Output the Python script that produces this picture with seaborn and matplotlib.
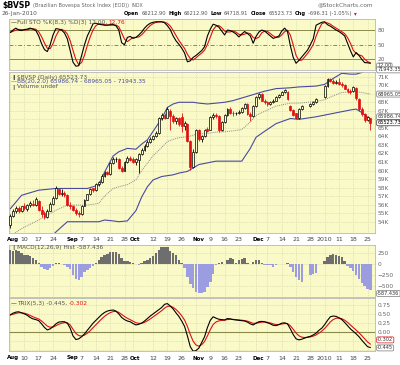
import numpy as np
import pandas as pd
import matplotlib
matplotlib.use("Agg")
import matplotlib.pyplot as plt
from matplotlib.transforms import blended_transform_factory as btf
import seaborn as sns

nan = np.nan
dates = pd.bdate_range("2009-08-03", "2010-01-26")

# ---- daily OHLC of $BVSP, in thousands ----
open_k = [53.6, 54.7, 55.2, 55.6, 55.3, 55.8, 55.5, 56.0, 56.1, 56.0,
          56.4, 55.4, 55.0, 54.5, 55.3, 56.1, 56.8, 57.8, 57.3, 57.4,
          57.1, 56.0, 55.9, 55.4, 55.0, 54.9, 55.9, 56.6, 57.2, 57.9,
          57.7, 58.4, 58.7, 59.4, 59.8, 59.6, 60.9, 61.3, 61.4, 60.3,
          60.0, 61.0, 61.5, 61.3, 61.0, 61.2, 61.9, 62.4, 62.9, 63.4,
          63.7, 64.0, 64.4, 66.1, 66.5, 66.2, 67.0, 66.4, 65.8, 66.1,
          66.3, 65.2, 65.5, 63.5, 60.4, 62.2, 64.7, 63.7, 64.0, 64.9,
          64.8, 66.3, 66.5, 66.4, 64.7, 65.7, 66.5, 67.2, 66.8, 66.7,
          66.7, 66.9, 67.3, 67.8, 66.6, 66.4, 67.6, 68.6, 69.0, 68.2,
          68.0, 67.8, 68.0, 68.2, 68.6, 68.9, 69.2, 69.2, 67.6, 67.1,
          66.7, 66.1, 67.2, nan, nan, 67.6, 67.8, 68.0, nan, nan,
          68.6, 69.9, 70.7, 70.5, 70.3, 70.4, 70.2, 70.0, 69.6, 69.3,
          69.3, 69.7, 68.4, 67.2, 66.6, 65.9, 66.21]
high_k = [54.9, 55.5, 55.8, 55.9, 55.9, 56.2, 56.1, 56.4, 56.5, 56.9,
          56.6, 55.8, 55.2, 55.5, 56.3, 57.0, 58.2, 58.0, 57.8, 57.6,
          57.3, 56.3, 56.0, 55.6, 55.2, 56.0, 56.7, 57.3, 57.9, 58.0,
          58.5, 58.8, 59.6, 59.9, 60.0, 61.0, 61.6, 61.6, 61.5, 60.5,
          61.1, 61.7, 61.7, 61.6, 61.5, 62.0, 62.6, 63.1, 63.6, 63.9,
          64.2, 64.6, 66.3, 66.7, 66.7, 67.4, 67.2, 66.6, 66.3, 66.3,
          66.8, 65.8, 65.6, 63.6, 62.5, 64.9, 64.9, 64.2, 64.9, 65.1,
          66.4, 66.7, 66.7, 66.5, 65.8, 66.6, 67.3, 67.4, 67.0, 66.9,
          67.1, 67.4, 67.9, 67.9, 66.9, 67.7, 68.7, 69.1, 69.1, 68.4,
          68.2, 68.1, 68.4, 68.7, 69.0, 69.3, 69.6, 69.3, 67.7, 67.2,
          66.8, 67.3, 67.7, nan, nan, 67.9, 68.1, 68.5, nan, nan,
          70.0, 70.8, 70.9, 70.7, 70.6, 70.8, 70.4, 70.1, 69.7, 69.5,
          69.9, 69.8, 68.5, 67.4, 66.8, 66.4, 66.21]
low_k = [53.3, 54.5, 55.0, 55.0, 55.1, 55.4, 55.3, 55.7, 55.8, 55.9,
         55.2, 54.5, 54.3, 54.4, 55.2, 56.0, 56.7, 57.1, 57.0, 56.9,
         55.9, 55.5, 55.2, 54.8, 54.6, 54.8, 55.8, 56.5, 57.1, 57.5,
         57.6, 58.2, 58.5, 59.2, 59.5, 59.5, 60.8, 61.0, 60.2, 59.8,
         59.9, 60.9, 61.1, 60.9, 60.6, 59.7, 61.8, 62.3, 62.8, 63.2,
         63.6, 63.9, 64.3, 65.9, 66.0, 66.1, 64.7, 65.6, 65.4, 65.2,
         64.5, 64.8, 63.3, 60.1, 60.3, 62.0, 63.5, 63.4, 63.9, 64.5,
         64.7, 66.0, 66.2, 64.5, 64.6, 65.6, 66.4, 66.6, 66.4, 66.5,
         66.6, 66.8, 67.2, 66.5, 65.8, 66.3, 67.5, 68.4, 68.1, 67.8,
         67.6, 67.7, 67.9, 68.1, 68.5, 68.8, 69.1, 68.3, 67.0, 66.4,
         66.0, 66.0, 67.1, nan, nan, 67.5, 67.7, 67.9, nan, nan,
         68.5, 69.8, 70.4, 70.2, 70.1, 70.0, 69.8, 69.5, 69.1, 69.0,
         69.2, 68.3, 67.0, 66.4, 65.7, 65.8, 64.72]
close_k = [54.7, 55.3, 55.6, 55.2, 55.8, 55.6, 56.0, 56.2, 56.0, 56.7,
           55.4, 54.9, 54.6, 55.3, 56.1, 56.8, 57.9, 57.3, 57.4, 57.1,
           56.0, 55.9, 55.4, 55.0, 54.9, 55.9, 56.6, 57.2, 57.8, 57.7,
           58.4, 58.7, 59.4, 59.7, 59.6, 60.9, 61.3, 61.4, 60.3, 60.0,
           61.0, 61.5, 61.2, 61.0, 61.4, 61.9, 62.4, 62.9, 63.4, 63.7,
           64.0, 64.4, 66.1, 66.5, 66.2, 67.2, 66.4, 65.8, 66.1, 65.5,
           65.2, 65.6, 63.5, 60.4, 62.2, 64.7, 63.7, 64.0, 64.7, 64.6,
           66.3, 66.5, 66.4, 64.7, 65.7, 66.5, 67.2, 66.8, 66.7, 66.8,
           66.9, 67.3, 67.8, 66.6, 66.4, 67.6, 68.6, 69.0, 68.2, 68.0,
           67.8, 68.0, 68.2, 68.6, 68.9, 69.2, 69.4, 68.4, 67.1, 66.5,
           66.1, 67.2, 67.6, nan, nan, 67.8, 68.0, 68.4, nan, nan,
           69.9, 70.7, 70.5, 70.3, 70.4, 70.2, 70.0, 69.6, 69.3, 69.2,
           69.8, 68.5, 67.2, 66.6, 65.9, 66.22, 65.52]

# ---- Bollinger bands (20,2), read at selected days ----
bb_day = [0, 4, 10, 16, 20, 27, 31, 33, 36, 38, 41, 44, 46, 48, 50, 53, 55, 57, 59, 62,
          64, 66, 69, 72, 75, 78, 81, 84, 86, 89, 93, 98, 101, 107, 110, 113, 116, 119, 121, 123, 126]
bb_upper = [55.5, 57.1, 57.7, 57.9, 57.9, 57.9, 58.3, 59.8, 61.7, 62.2, 62.6, 62.5, 63.1, 63.6,
            64.6, 66.1, 67.4, 67.8, 68.0, 68.0, 68.0, 67.9, 67.8, 67.9, 68.0, 68.2, 68.5, 68.8,
            69.0, 69.3, 69.6, 69.7, 69.8, 69.9, 70.1, 70.8, 71.4, 71.3, 71.3, 71.5, 71.94]
bb_lower = [49.1, 49.3, 50.7, 52.8, 54.0, 54.0, 54.0, 54.2, 54.1, 54.0, 54.1, 55.3, 56.9, 58.1,
            58.9, 59.3, 59.4, 59.5, 59.7, 59.9, 60.3, 60.7, 60.9, 61.1, 61.1, 61.1, 61.1, 62.6,
            63.9, 64.6, 65.5, 66.1, 66.0, 66.3, 66.5, 66.7, 66.9, 67.1, 67.2, 66.8, 65.99]

# ---- Full Stochastic %K(8,3) ----
sto_k = [75, 80, 84, 80, 79, 81, 82, 84, 82, 79, 68, 52, 40, 36, 50, 70, 83, 82, 80, 74,
         62, 38, 14, 6, 7, 28, 50, 68, 80, 93, 94, 92, 91, 90, 90, 91, 91, 89, 80, 54,
         50, 65, 67, 63, 65, 70, 76, 84, 90, 94, 96, 97, 97, 97, 95, 89, 81, 68, 58, 51,
         43, 33, 15, 17, 24, 28, 33, 38, 46, 68, 82, 92, 90, 86, 78, 70, 80, 79, 76, 72,
         66, 72, 77, 73, 68, 53, 67, 76, 80, 78, 73, 68, 63, 65, 68, 78, 84, 77, 48, 24,
         12, 18, 25, 32, 39, 50, 62, 90, 93, 96, 97, 91, 88, 84, 80, 77, 73, 68, 53, 38,
         25, 34, 28, 20, 13.3, 13.0, 12.0]

# ---- MACD(12,26,9) histogram ----
macd_hist = [310, 300, 305, 290, 240, 210, 200, 170, 130, 95,
             20, -60, -120, -135, -90, -40, 15, 15, 10, -20,
             -60, -110, -250, -330, -360, -300, -180, -130, -80, -40,
             20, 90, 150, 200, 230, 260, 270, 270, 230, 130,
             70, 60, 55, 20, 10, -20, 30, 60, 100, 130,
             180, 250, 320, 380, 390, 390, 300, 250, 200, 100,
             30, -100, -300, -440, -540, -620, -660, -650, -620, -520,
             -400, -220, -30, 30, 40, 0, 90, 130, 110, 20,
             90, 120, 130, 20, 0, 50, 90, 90, 20, -20,
             -20, -30, -60, -20, 0, 0, 10, 15, -60, -180,
             -290, -370, -400, nan, nan, -250, -220, -200, nan, nan,
             60, 150, 200, 220, 210, 190, 150, 70, -40, -100,
             -150, -250, -330, -420, -500, -560, -587.436]

# ---- TRIX(5,3) ----
trix = [0.47, 0.52, 0.55, 0.56, 0.53, 0.50, 0.46, 0.40, 0.36, 0.34,
        0.31, 0.22, 0.12, 0.05, 0.08, 0.14, 0.22, 0.27, 0.28, 0.28,
        0.24, 0.10, -0.12, -0.22, -0.20, -0.14, -0.06, 0.04, 0.14, 0.24,
        0.32, 0.40, 0.48, 0.54, 0.58, 0.60, 0.61, 0.58, 0.50, 0.40,
        0.34, 0.30, 0.28, 0.23, 0.19, 0.21, 0.24, 0.30, 0.37, 0.44,
        0.50, 0.56, 0.62, 0.68, 0.77, 0.79, 0.72, 0.64, 0.53, 0.43,
        0.30, 0.15, -0.12, -0.42, -0.55, -0.53, -0.46, -0.30, -0.14, 0.12,
        0.32, 0.42, 0.38, 0.35, 0.34, 0.33, 0.37, 0.36, 0.34, 0.33,
        0.32, 0.31, 0.30, 0.27, 0.22, 0.19, 0.24, 0.28, 0.29, 0.28,
        0.25, 0.22, 0.18, 0.17, 0.20, 0.24, 0.25, 0.22, 0.08, -0.08,
        -0.20, -0.23, -0.21, -0.18, -0.15, -0.13, -0.09, -0.04, 0.04, 0.10,
        0.20, 0.32, 0.42, 0.44, 0.43, 0.39, 0.34, 0.26, 0.17, 0.08,
        0.01, -0.06, -0.14, -0.24, -0.33, -0.42, -0.445]

# ---- date axis labels ----
tick_day = [0, 5, 10, 15, 21, 25, 30, 35, 40, 43, 50, 55, 60, 65, 70, 75, 80, 86, 90, 95,
            100, 105, 110, 115, 120, 125]
tick_lab = ['Aug', '10', '17', '24', 'Sep', '7', '14', '21', '28', 'Oct', '12', '19', '26',
            'Nov', '9', '16', '23', 'Dec', '7', '14', '21', '28', '2010', '11', '18', '25']

# ------------------------------------------------------------------
sns.set_style("white")
plt.rcParams['font.family'] = ['DejaVu Sans']

n = len(dates)
day = np.arange(n)
df = pd.DataFrame({'day': day, 'open': open_k, 'high': high_k, 'low': low_k, 'close': close_k,
                   'k': sto_k, 'hist': macd_hist, 'trix': trix})
df['d'] = df['k'].rolling(3, min_periods=1).mean()
df['trix_sig'] = df['trix'].ewm(span=4, adjust=False).mean()
bb = pd.DataFrame({'day': bb_day, 'upper': bb_upper, 'lower': bb_lower})
bb['mid'] = (bb['upper'] + bb['lower']) / 2

W, H = 400, 365
fig = plt.figure(figsize=(W / 100, H / 100), dpi=100)
fig.patch.set_facecolor('white')
BG = '#fafac8'
OLIVE = '#8a8a4a'
RED = '#e01010'
FS = 4.2


def add_ax(top, bottom, left=9, right=375):
    return fig.add_axes([left / W, 1 - bottom / H, (right - left) / W, (bottom - top) / H])


ax_sto = add_ax(19, 70)
ax_main = add_ax(72, 233)
ax_macd = add_ax(245, 297)
ax_trix = add_ax(298, 351)

for ax in (ax_sto, ax_main, ax_macd, ax_trix):
    ax.set_facecolor(BG)
    ax.set_xlim(-0.4, 127.6)
    ax.set_xticks(tick_day)
    ax.set_xticklabels([])
    ax.tick_params(axis='x', length=0)
    ax.yaxis.tick_right()
    ax.tick_params(axis='y', length=0, pad=2, labelsize=4.2, labelcolor='#666666')
    for s in ax.spines.values():
        s.set_color('#b8b8b8')
        s.set_linewidth(0.6)
    ax.grid(True, color='#cdcdaa', ls=(0, (1, 1.5)), lw=0.5)
    ax.set_axisbelow(True)


def vbox(ax, yval, s, ec='#777777', tc='#333333'):
    tr = btf(ax.transAxes, ax.transData)
    ax.text(1.006, yval, s, transform=tr, fontsize=3.6, va='center', ha='left', color=tc,
            bbox=dict(boxstyle='round,pad=0.1,rounding_size=0.25', fc='white', ec=ec, lw=0.5),
            clip_on=False, zorder=10)


def px_text(xpx, ypx, s, **kw):
    return fig.text(xpx / W, 1 - ypx / H, s, va='center', ha='left', **kw)


renderer = fig.canvas.get_renderer()


def run_text(xpx, ypx, pieces, gap=2.5):
    # pieces: list of (text, kwargs); each piece starts after the previous one ends
    x = xpx
    for s, kw in pieces:
        t = px_text(x, ypx, s, **kw)
        bb_ = t.get_window_extent(renderer=renderer)
        x = bb_.x1 + gap


# ---- STO panel ----
ax_sto.set_ylim(-1.8, 102.7)
ax_sto.set_yticks([20, 50, 80])
ax_sto.grid(False, axis='y')
for lv, ls in ((80, '-'), (20, '-'), (50, (0, (4, 2, 1, 2)))):
    ax_sto.axhline(lv, color=OLIVE, lw=0.7, ls=ls, zorder=1)
sns.lineplot(data=df, x='day', y='d', ax=ax_sto, color=RED, lw=0.8, legend=False)
sns.lineplot(data=df, x='day', y='k', ax=ax_sto, color='black', lw=0.8, legend=False)
ax_sto.set_xlabel(''); ax_sto.set_ylabel('')
vbox(ax_sto, 6.5, '12.00')

# ---- price panel ----
ax_main.set_ylim(52.68, 71.55)
yk = list(range(54, 72))
ax_main.set_yticks(yk)
ax_main.set_yticklabels(['' if v in (66, 69) else f'{v}K' for v in yk])
sns.lineplot(data=bb, x='day', y='upper', ax=ax_main, color='#4a4aa0', lw=0.8, legend=False)
sns.lineplot(data=bb, x='day', y='lower', ax=ax_main, color='#4a4aa0', lw=0.8, legend=False)
sns.lineplot(data=bb, x='day', y='mid', ax=ax_main, color='#8a8a8a', lw=0.7, ls=(0, (1, 1)), legend=False)
ax_main.set_xlabel(''); ax_main.set_ylabel('')

prev = None
for r in df.itertuples():
    if np.isnan(r.close):
        continue
    red = prev is not None and r.close < prev
    col = RED if red else 'black'
    ax_main.vlines(r.day, r.low, r.high, color=col, lw=0.6, zorder=3)
    filled = r.close < r.open
    bot = min(r.open, r.close)
    hgt = max(abs(r.close - r.open), 0.05)
    ax_main.bar(r.day, hgt, bottom=bot, width=0.66, color=col if filled else BG,
                edgecolor=col, lw=0.5, zorder=4)
    prev = r.close

vbox(ax_main, 71.80, '71943.35')
vbox(ax_main, 68.965, '68965.05')
vbox(ax_main, 66.3, '65986.74')
vbox(ax_main, 65.6, '65523.73', ec='#333333', tc='black')

# ---- MACD panel ----
ax_macd.set_ylim(-743, 428)
ax_macd.set_yticks([-500, -250, 0, 250])
hist = np.nan_to_num(df['hist'].to_numpy())
cols = ['#6e6e6e' if v >= 0 else '#9c9ce0' for v in hist]
ax_macd.bar(df['day'], hist, width=0.86, color=cols, lw=0, zorder=3)
vbox(ax_macd, -665, '-587.436')

# ---- TRIX panel ----
ax_trix.set_ylim(-0.542, 0.947)
ax_trix.set_yticks([-0.5, -0.25, 0, 0.25, 0.5, 0.75])
ax_trix.set_yticklabels(['', '', '0.00', '0.25', '0.50', '0.75'])
ax_trix.axhline(0, color=OLIVE, lw=0.8, zorder=1)
sns.lineplot(data=df, x='day', y='trix_sig', ax=ax_trix, color=RED, lw=0.8, legend=False)
sns.lineplot(data=df, x='day', y='trix', ax=ax_trix, color='black', lw=0.8, legend=False)
ax_trix.set_xlabel(''); ax_trix.set_ylabel('')
vbox(ax_trix, -0.23, '-0.302', ec=RED, tc='#333333')
vbox(ax_trix, -0.455, '-0.445')


# ---- date labels ----
def date_labels(ax, off_px, height_px):
    tr = btf(ax.transData, ax.transAxes)
    for d, lab in zip(tick_day, tick_lab):
        month = not lab.isdigit()
        ax.text(d - (1.2 if month else 0), -off_px / height_px, lab, transform=tr,
                ha='left' if month else 'center', va='center',
                fontsize=4.0 if month else 4.5,
                fontweight='bold' if month else 'normal',
                color='black' if month else '#444444', clip_on=False)


date_labels(ax_main, 6, 161)
date_labels(ax_trix, 7, 53)

# ---- legends inside panels ----
px_text(11, 22.5, '—', fontsize=FS, color='black')
run_text(17, 22.5, [('Full STO %K(8,3) %D(3) 12.00,', dict(fontsize=FS, color='#555555')),
                    ('12.76', dict(fontsize=FS, color=RED))], gap=1.5)

px_text(11, 77, '\u2759', fontsize=3.8, color='black')
px_text(17, 77, '$BVSP (Daily) 65523.73', fontsize=FS, color='#555555')
px_text(11, 82, '—', fontsize=FS, color='#4a4aa0')
px_text(17, 82, 'BB(20,2.0) 65986.74 - 68965.05 - 71943.35', fontsize=FS, color='#4a4aa0')
px_text(11, 87, '\u2759', fontsize=3.8, color='#555555')
px_text(17, 87, 'Volume undef', fontsize=FS, color='#555555')

px_text(11, 247.5, '\u2759', fontsize=3.8, color='#555555')
px_text(17, 247.5, 'MACD(12,26,9) Hist -587.436', fontsize=FS, color='#555555')

px_text(11, 303.5, '—', fontsize=FS, color='black')
run_text(17, 303.5, [('TRIX(5,3) -0.445,', dict(fontsize=FS, color='#555555')),
                     ('-0.302', dict(fontsize=FS, color=RED))], gap=1.5)

# ---- header ----
run_text(2, 5.5, [('$BVSP', dict(fontsize=5.6, fontweight='bold', color='black')),
                  ('(Brazilian Bovespa Stock Index (EOD))', dict(fontsize=3.6, color='#666666')),
                  ('INDX', dict(fontsize=3.3, color='#666666'))], gap=2.5)
px_text(2, 13.5, '26-Jan-2010', fontsize=FS, color='#555555')
px_text(318, 5, '@StockCharts.com', fontsize=FS, color='#666666')
lab_kw = dict(fontsize=3.7, fontweight='bold', color='black')
val_kw = dict(fontsize=3.7, color='#555555')
run_text(124, 13.5, [('Open', lab_kw), ('66212.90', val_kw), ('High', lab_kw), ('66212.90', val_kw),
                     ('Low', lab_kw), ('64718.91', val_kw), ('Close', lab_kw), ('65523.73', val_kw),
                     ('Chg', lab_kw), ('-696.31 (-1.05%)', val_kw),
                     ('\u25BE', dict(fontsize=4.0, color=RED))], gap=2.2)

fig.savefig('out.png', dpi=100, facecolor='white')
